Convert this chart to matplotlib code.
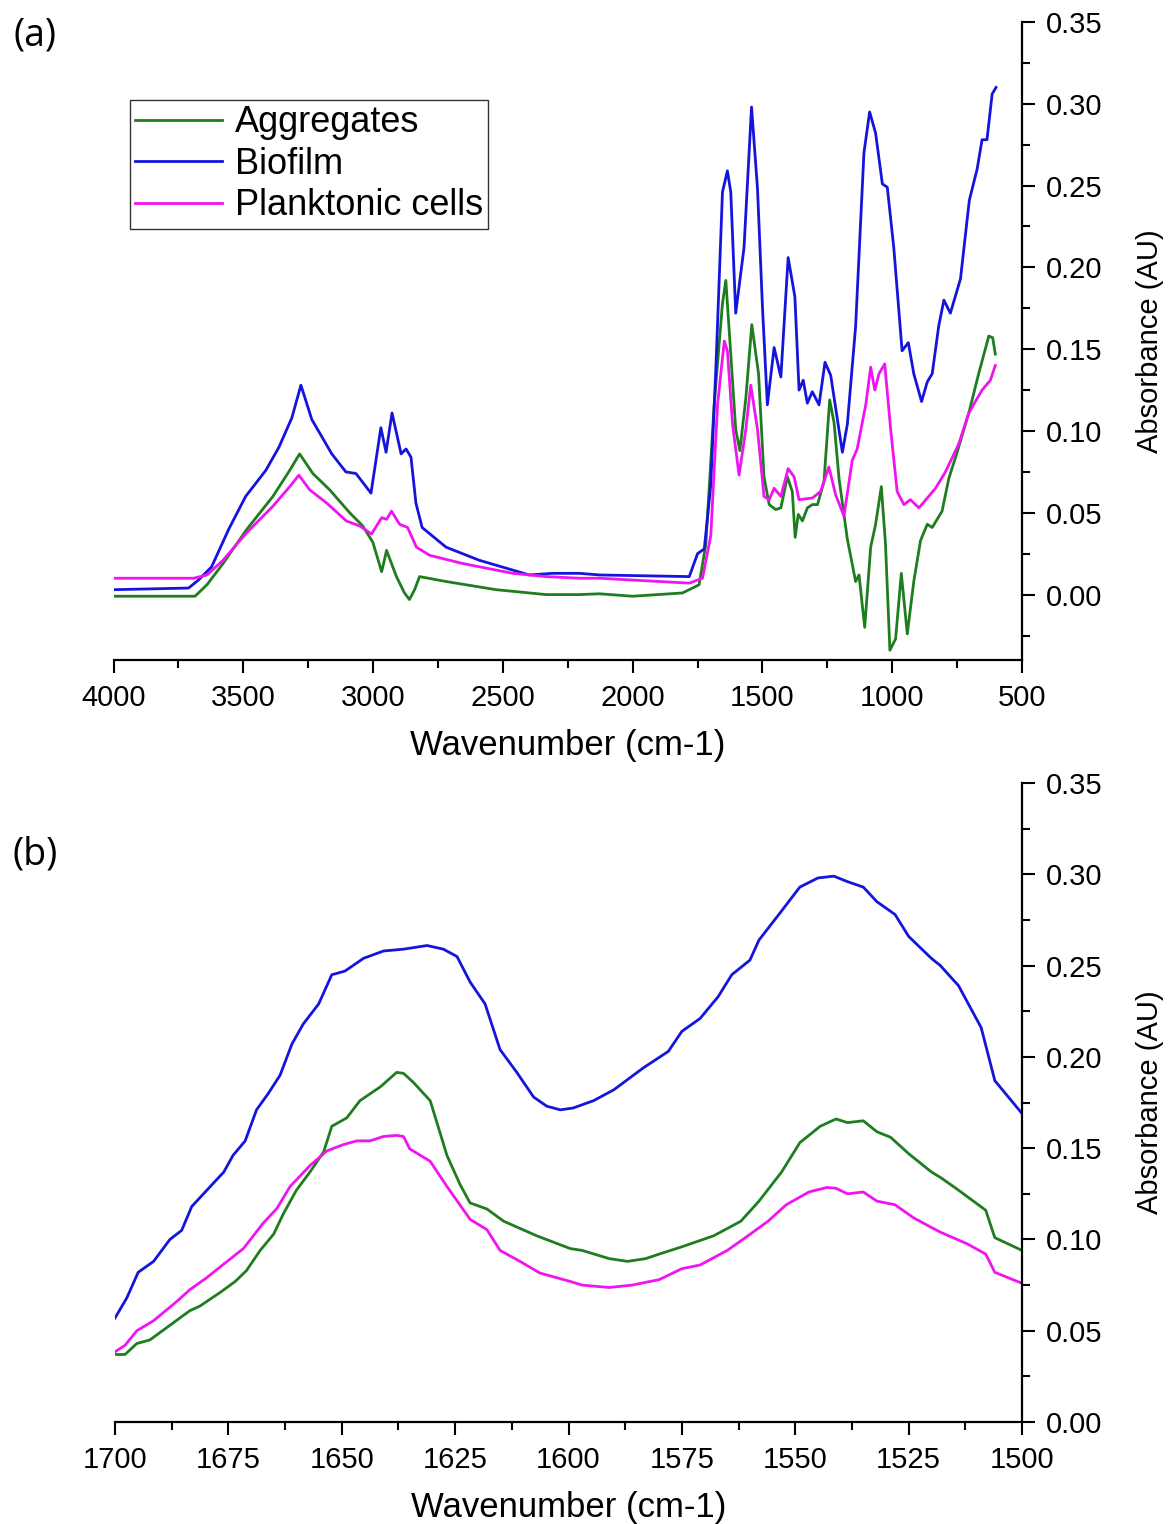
import matplotlib
matplotlib.use('Agg')
import matplotlib.pyplot as plt
from matplotlib.ticker import MultipleLocator

plt.rcParams['font.family'] = ['Liberation Sans', 'DejaVu Sans']

# panel (a) - full spectra
wn_agg = [4000, 3686, 3640, 3578, 3486, 3386, 3321, 3283, 3232, 3167, 3090, 3040, 3001, 2967, 2948, 2910,
          2879, 2860, 2840, 2821, 2719, 2526, 2333, 2205, 2128, 2000, 1808, 1744, 1718, 1686, 1654, 1641,
          1622, 1603, 1587, 1564, 1541, 1515, 1494, 1474, 1449, 1429, 1404, 1385, 1374, 1362, 1346, 1327,
          1308, 1288, 1263, 1241, 1224, 1205, 1173, 1141, 1128, 1106, 1083, 1064, 1042, 1026, 1009, 987,
          965, 942, 917, 891, 865, 846, 808, 782, 750, 705, 667, 628, 613, 603]
abs_agg = [-0.001, -0.001, 0.006, 0.019, 0.040, 0.060, 0.076, 0.086, 0.074, 0.064, 0.050, 0.042, 0.032, 0.014,
           0.027, 0.011, 0.001, -0.003, 0.003, 0.011, 0.008, 0.003, 0.000, 0.000, 0.0005, -0.001, 0.001, 0.006,
           0.031, 0.116, 0.178, 0.192, 0.147, 0.101, 0.088, 0.120, 0.165, 0.135, 0.072, 0.055, 0.052, 0.053,
           0.072, 0.063, 0.035, 0.049, 0.045, 0.053, 0.055, 0.055, 0.069, 0.119, 0.105, 0.071, 0.034, 0.008,
           0.012, -0.020, 0.029, 0.043, 0.066, 0.031, -0.034, -0.027, 0.013, -0.024, 0.008, 0.033, 0.043,
           0.041, 0.051, 0.071, 0.087, 0.111, 0.135, 0.158, 0.157, 0.147]

wn_bio = [4000, 3711, 3672, 3622, 3556, 3491, 3413, 3363, 3313, 3278, 3236, 3159, 3105, 3066, 3008, 2970,
          2950, 2927, 2892, 2873, 2854, 2835, 2811, 2719, 2591, 2398, 2310, 2205, 2128, 1782, 1750, 1724,
          1699, 1679, 1654, 1635, 1622, 1603, 1571, 1542, 1519, 1500, 1481, 1455, 1429, 1401, 1375, 1359,
          1343, 1327, 1308, 1282, 1259, 1237, 1215, 1192, 1173, 1141, 1109, 1087, 1064, 1038, 1019, 994,
          962, 938, 917, 887, 865, 846, 821, 801, 776, 737, 703, 673, 654, 635, 615, 600]
abs_bio = [0.003, 0.004, 0.009, 0.017, 0.040, 0.060, 0.076, 0.090, 0.108, 0.128, 0.107, 0.086, 0.075, 0.074,
           0.062, 0.102, 0.087, 0.111, 0.086, 0.089, 0.084, 0.056, 0.041, 0.029, 0.021, 0.012, 0.013, 0.013,
           0.012, 0.011, 0.025, 0.028, 0.067, 0.140, 0.246, 0.259, 0.246, 0.172, 0.212, 0.298, 0.248, 0.176,
           0.116, 0.151, 0.133, 0.206, 0.182, 0.125, 0.131, 0.117, 0.124, 0.116, 0.142, 0.134, 0.111, 0.087,
           0.104, 0.164, 0.270, 0.295, 0.282, 0.251, 0.249, 0.212, 0.149, 0.154, 0.135, 0.118, 0.130, 0.135,
           0.164, 0.180, 0.172, 0.193, 0.241, 0.260, 0.278, 0.278, 0.306, 0.310]

wn_plk = [4000, 3692, 3640, 3578, 3486, 3386, 3321, 3286, 3244, 3179, 3103, 3052, 3006, 2967, 2948, 2929,
          2898, 2867, 2833, 2782, 2655, 2462, 2333, 2205, 2128, 1782, 1731, 1699, 1673, 1647, 1635, 1615,
          1590, 1564, 1545, 1519, 1494, 1474, 1455, 1429, 1401, 1378, 1359, 1308, 1276, 1244, 1218, 1186,
          1154, 1135, 1102, 1083, 1067, 1051, 1029, 1006, 981, 955, 930, 897, 865, 833, 795, 744, 705, 654,
          622, 603]
abs_plk = [0.010, 0.010, 0.012, 0.021, 0.038, 0.054, 0.066, 0.073, 0.064, 0.056, 0.045, 0.042, 0.037, 0.047,
           0.046, 0.051, 0.043, 0.041, 0.029, 0.024, 0.019, 0.013, 0.011, 0.010, 0.010, 0.007, 0.010, 0.036,
           0.116, 0.155, 0.149, 0.104, 0.073, 0.101, 0.128, 0.101, 0.060, 0.058, 0.065, 0.060, 0.077, 0.072,
           0.058, 0.059, 0.063, 0.078, 0.061, 0.048, 0.082, 0.089, 0.116, 0.139, 0.125, 0.135, 0.141, 0.101,
           0.063, 0.055, 0.058, 0.053, 0.059, 0.065, 0.075, 0.092, 0.111, 0.125, 0.131, 0.140]

# panel (b) - amide region
wnb_bio = [1700, 1697.4, 1694.9, 1691.5, 1687.9, 1685.3, 1683.1, 1679, 1676, 1674, 1671.3, 1668.8, 1666.2,
           1663.6, 1661, 1658.5, 1655.1, 1652.2, 1649.3, 1645.2, 1640.8, 1636.4, 1631.2, 1627.6, 1624.6,
           1621.7, 1618.4, 1615.1, 1611.4, 1607.7, 1604.8, 1601.8, 1599, 1594.5, 1590, 1583.5, 1578, 1575,
           1571, 1567, 1564, 1560, 1558, 1553, 1549, 1545, 1541.5, 1538.5, 1535, 1532, 1528, 1525, 1520,
           1518, 1514, 1509, 1506, 1503, 1500]
absb_bio = [0.057, 0.068, 0.082, 0.088, 0.100, 0.105, 0.118, 0.129, 0.137, 0.146, 0.154, 0.171, 0.180,
            0.190, 0.207, 0.218, 0.229, 0.245, 0.247, 0.254, 0.258, 0.259, 0.261, 0.259, 0.255, 0.241,
            0.229, 0.204, 0.1915, 0.178, 0.173, 0.171, 0.172, 0.176, 0.182, 0.194, 0.203, 0.214, 0.221,
            0.233, 0.245, 0.253, 0.264, 0.280, 0.293, 0.298, 0.299, 0.296, 0.293, 0.285, 0.278, 0.266,
            0.254, 0.250, 0.239, 0.216, 0.187, 0.178, 0.169]

wnb_agg = [1700, 1697.8, 1695.2, 1692.3, 1687.9, 1683.5, 1681.3, 1676.8, 1673.5, 1671, 1668, 1665, 1662.9,
           1660, 1657, 1654, 1652.2, 1648.9, 1646, 1641.5, 1637.9, 1636.4, 1634.2, 1630.5, 1626.8, 1623.9,
           1621.7, 1618, 1614.3, 1607, 1599.6, 1597, 1591, 1587, 1583, 1580, 1575, 1568, 1562, 1558, 1553,
           1549, 1544.5, 1541, 1538.5, 1535, 1532, 1529, 1525, 1520, 1518, 1514, 1508, 1506, 1503, 1500]
absb_agg = [0.037, 0.037, 0.043, 0.045, 0.053, 0.061, 0.0635, 0.071, 0.077, 0.083, 0.094, 0.103, 0.114,
            0.127, 0.137, 0.148, 0.162, 0.1666, 0.176, 0.1836, 0.1915, 0.191, 0.186, 0.176, 0.146, 0.130,
            0.120, 0.1167, 0.110, 0.102, 0.095, 0.094, 0.0895, 0.088, 0.0895, 0.092, 0.096, 0.102, 0.110,
            0.121, 0.137, 0.153, 0.162, 0.166, 0.164, 0.165, 0.159, 0.156, 0.147, 0.137, 0.134, 0.127,
            0.116, 0.101, 0.0975, 0.094]

wnb_plk = [1700, 1697.8, 1695.2, 1691.5, 1686.4, 1683.5, 1679.8, 1676.8, 1671.7, 1667.3, 1664.3, 1661.4,
           1657, 1653.3, 1649.6, 1646.7, 1643.8, 1640.8, 1637.9, 1636.4, 1635, 1630.5, 1626.8, 1621.7, 1618,
           1615.1, 1610.7, 1606.3, 1599.6, 1597, 1591, 1586, 1580, 1575, 1571, 1565, 1561, 1556, 1552, 1547,
           1543, 1541, 1538.5, 1535, 1532, 1528, 1524, 1520, 1518, 1512, 1508, 1506, 1503, 1500]
absb_plk = [0.0385, 0.042, 0.050, 0.0555, 0.066, 0.0725, 0.079, 0.085, 0.095, 0.109, 0.117, 0.129, 0.1405,
            0.1485, 0.152, 0.154, 0.154, 0.1564, 0.157, 0.1564, 0.1496, 0.1428, 0.129, 0.111, 0.1054, 0.094,
            0.088, 0.0816, 0.077, 0.075, 0.0737, 0.075, 0.078, 0.084, 0.086, 0.094, 0.101, 0.110, 0.119,
            0.126, 0.1285, 0.128, 0.125, 0.126, 0.121, 0.119, 0.112, 0.1066, 0.104, 0.0975, 0.092, 0.082,
            0.079, 0.076]

c_agg = '#1e7d1e'
c_bio = '#1414dc'
c_plk = '#f014f0'
lw = 2.0

fig = plt.figure(figsize=(11.75, 15.24), dpi=100)
ax1 = fig.add_axes([0.0966, 0.5669, 0.7732, 0.4187])
ax2 = fig.add_axes([0.0979, 0.0669, 0.7719, 0.4193])


def style(ax):
    ax.spines['left'].set_visible(False)
    ax.spines['top'].set_visible(False)
    ax.spines['right'].set_linewidth(1.6)
    ax.spines['bottom'].set_linewidth(1.6)
    ax.yaxis.tick_right()
    ax.yaxis.set_label_position('right')
    ax.tick_params(which='major', direction='out', length=9.5, width=1.5, labelsize=21, pad=8)
    ax.tick_params(which='minor', direction='out', length=6, width=1.5)
    ax.set_xlabel('Wavenumber (cm-1)', fontsize=25, labelpad=12)
    ax.set_ylabel('Absorbance (AU)', fontsize=21, labelpad=24)
    ax.yaxis.set_major_locator(MultipleLocator(0.05))
    ax.yaxis.set_minor_locator(MultipleLocator(0.025))
    ax.yaxis.set_major_formatter(matplotlib.ticker.FormatStrFormatter('%.2f'))


ax1.plot(wn_agg, abs_agg, color=c_agg, lw=lw, label='Aggregates')
ax1.plot(wn_bio, abs_bio, color=c_bio, lw=lw, label='Biofilm')
ax1.plot(wn_plk, abs_plk, color=c_plk, lw=lw, label='Planktonic cells')
ax1.set_xlim(4000, 500)
ax1.set_ylim(-0.04, 0.35)
ax1.xaxis.set_major_locator(MultipleLocator(500))
ax1.xaxis.set_minor_locator(MultipleLocator(250))
style(ax1)
leg = ax1.legend(loc='upper left', bbox_to_anchor=(0.018, 0.878), borderaxespad=0, fontsize=26,
                 handlelength=2.4, handletextpad=0.35, labelspacing=0.18, borderpad=0.15,
                 fancybox=False, framealpha=1, edgecolor='#333333')
leg.get_frame().set_linewidth(1.0)

ax2.plot(wnb_agg, absb_agg, color=c_agg, lw=lw)
ax2.plot(wnb_bio, absb_bio, color=c_bio, lw=lw)
ax2.plot(wnb_plk, absb_plk, color=c_plk, lw=lw)
ax2.set_xlim(1700, 1500)
ax2.set_ylim(0, 0.35)
ax2.xaxis.set_major_locator(MultipleLocator(25))
ax2.xaxis.set_minor_locator(MultipleLocator(12.5))
style(ax2)

fig.text(0.030, 0.977, '(a)', fontsize=27, family=['Open Sans', 'DejaVu Sans'], ha='center', va='center')
fig.text(0.030, 0.439, '(b)', fontsize=27, family=['Open Sans', 'DejaVu Sans'], ha='center', va='center')

fig.savefig('out.png', dpi=100)
